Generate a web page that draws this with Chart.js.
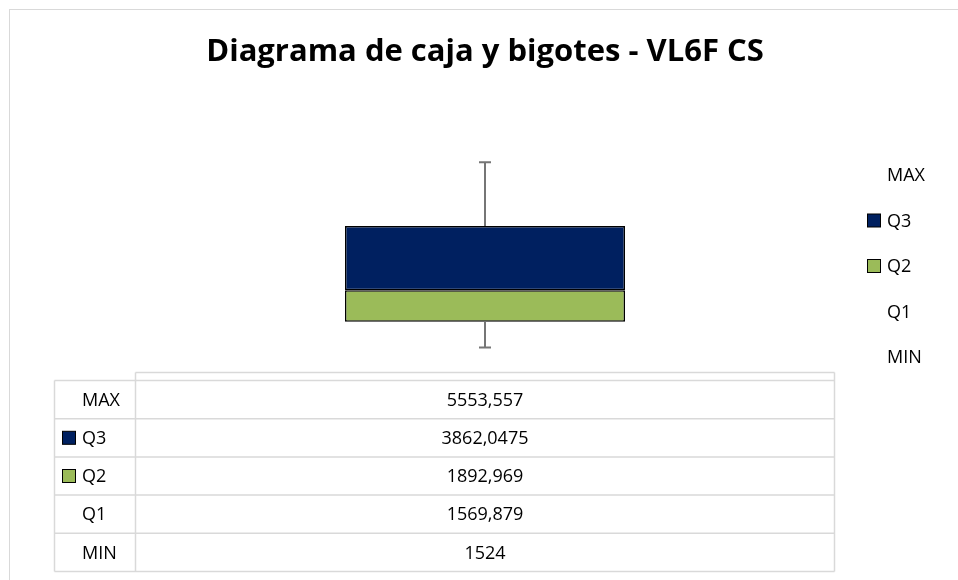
<!DOCTYPE html>
<html>
<head>
<meta charset="utf-8">
<script src="https://cdn.jsdelivr.net/npm/chart.js@4/dist/chart.umd.min.js"></script>
<style>
  body { margin: 0; background: #fff; }
  #wrap { position: relative; width: 958px; height: 580px; }
</style>
</head>
<body>
<div id="wrap"><canvas id="canvas"></canvas></div>
<script>
// data
var categories = ['1'];
var seriesNames = ['MAX', 'Q3', 'Q2', 'Q1', 'MIN'];
var maxValues = [5553.557];
var q3Values = [3862.0475];
var q2Values = [1892.969];
var q1Values = [1569.879];
var minValues = [1524];
// error bar lengths as drawn (estimated)
var whiskerUp = [3830];
var whiskerDown = [1540];

var navy = '#002060';
var green = '#9BBB59';
var font = '"Open Sans", "Liberation Sans", sans-serif';

function fmt(v) {
  return String(v).replace('.', ',');
}

// legend + data table + whiskers, drawn from the chart scales
var extras = {
  id: 'extras',
  afterDatasetsDraw: function(chart) {
    var ctx = chart.ctx;
    var x = chart.scales.x;
    var y = chart.scales.y;

    // whiskers
    ctx.save();
    ctx.strokeStyle = '#767676';
    ctx.lineWidth = 2;
    categories.forEach(function(c, i) {
      var cx = x.getPixelForValue(i);
      var top = q1Values[i] + q2Values[i] + q3Values[i];
      var y1 = y.getPixelForValue(top);
      var y2 = y.getPixelForValue(top + whiskerUp[i]);
      var y3 = y.getPixelForValue(q1Values[i]);
      var y4 = y.getPixelForValue(q1Values[i] - whiskerDown[i]);
      ctx.beginPath();
      ctx.moveTo(cx, y1); ctx.lineTo(cx, y2);
      ctx.moveTo(cx - 6, y2); ctx.lineTo(cx + 6, y2);
      ctx.moveTo(cx, y3); ctx.lineTo(cx, y4);
      ctx.moveTo(cx - 6, y4); ctx.lineTo(cx + 6, y4);
      ctx.stroke();
    });
    ctx.restore();
  },
  afterDraw: function(chart) {
    var ctx = chart.ctx;
    var area = chart.chartArea;
    var swatch = { 'Q3': navy, 'Q2': green };
    var rows = {
      'MAX': maxValues, 'Q3': q3Values, 'Q2': q2Values, 'Q1': q1Values, 'MIN': minValues
    };

    ctx.save();
    // outer chart border
    ctx.strokeStyle = '#d9d9d9';
    ctx.lineWidth = 1;
    ctx.strokeRect(9.5, 9.5, 1000, 1000);

    // legend on the right
    ctx.font = '18px ' + font;
    ctx.textBaseline = 'middle';
    ctx.textAlign = 'left';
    seriesNames.forEach(function(name, i) {
      var ly = 175 + i * 45.5;
      if (swatch[name]) {
        ctx.fillStyle = swatch[name];
        ctx.fillRect(867.5, ly - 6.5, 13, 13);
        ctx.strokeStyle = '#000';
        ctx.strokeRect(867.5, ly - 6.5, 13, 13);
      }
      ctx.fillStyle = '#000';
      ctx.fillText(name, 887, ly + 1);
    });

    // data table
    var left = 54.5, colL = area.left + 0.5, colR = area.right - 0.5;
    var headTop = 372.5, rowTop = 380.5, rowH = 38.2;
    var bottom = rowTop + rowH * seriesNames.length;
    ctx.strokeStyle = '#d9d9d9';
    ctx.lineWidth = 1.5;
    ctx.beginPath();
    ctx.moveTo(colL, headTop); ctx.lineTo(colR, headTop);
    for (var r = 0; r <= seriesNames.length; r++) {
      var ry = rowTop + r * rowH;
      ctx.moveTo(left, ry); ctx.lineTo(colR, ry);
    }
    ctx.moveTo(left, rowTop); ctx.lineTo(left, bottom);
    ctx.moveTo(colL, headTop); ctx.lineTo(colL, bottom);
    ctx.moveTo(colR, headTop); ctx.lineTo(colR, bottom);
    ctx.stroke();

    seriesNames.forEach(function(name, i) {
      var cy = rowTop + rowH * (i + 0.5);
      if (swatch[name]) {
        ctx.fillStyle = swatch[name];
        ctx.fillRect(62.5, cy - 6.5, 13, 13);
        ctx.strokeStyle = '#000';
        ctx.lineWidth = 1;
        ctx.strokeRect(62.5, cy - 6.5, 13, 13);
      }
      ctx.fillStyle = '#000';
      ctx.textAlign = 'left';
      ctx.fillText(name, 82, cy + 1);
      ctx.textAlign = 'center';
      categories.forEach(function(c, j) {
        ctx.fillText(fmt(rows[name][j]), chart.scales.x.getPixelForValue(j), cy + 1);
      });
    });
    ctx.restore();
  }
};

var chart = new Chart(document.getElementById('canvas'), {
  type: 'bar',
  data: {
    labels: categories,
    datasets: [
      { label: 'Q1', data: q1Values, backgroundColor: 'rgba(0,0,0,0)', borderWidth: 0 },
      { label: 'Q2', data: q2Values, backgroundColor: green, borderColor: '#000', borderWidth: 1.5, borderSkipped: false },
      { label: 'Q3', data: q3Values, backgroundColor: navy, borderColor: '#000', borderWidth: 1.5, borderSkipped: false }
    ]
  },
  options: {
    responsive: true,
    maintainAspectRatio: false,
    animation: false,
    layout: { padding: { left: 135, right: 123, top: 0, bottom: 232 } },
    datasets: { bar: { barPercentage: 0.4, categoryPercentage: 1 } },
    scales: {
      x: { display: false, stacked: true },
      y: { display: false, stacked: true, min: 0, max: 12000 }
    },
    plugins: {
      legend: { display: false },
      tooltip: { enabled: false },
      title: {
        display: true,
        text: 'Diagrama de caja y bigotes - VL6F CS',
        color: '#000',
        font: { family: font, size: 31, weight: 'bold' },
        padding: { top: 34, bottom: 77 }
      }
    }
  },
  plugins: [extras]
});
</script>
</body>
</html>
